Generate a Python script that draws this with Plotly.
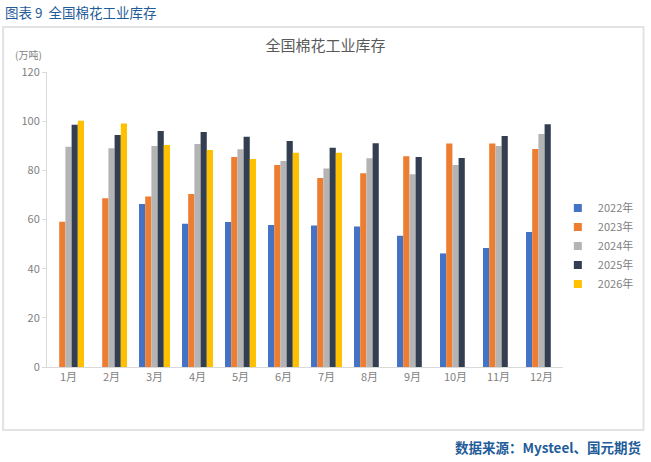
import plotly.graph_objects as go

months = ["1月", "2月", "3月", "4月", "5月", "6月", "7月", "8月", "9月", "10月", "11月", "12月"]
years = ["2022年", "2023年", "2024年", "2025年", "2026年"]

# 万吨 (None = no data)
y2022 = [None, None, 66.3, 58.3, 59.0, 57.8, 57.6, 57.2, 53.4, 46.2, 48.4, 54.9]
y2023 = [59.1, 68.6, 69.4, 70.4, 85.4, 82.2, 76.9, 78.8, 85.7, 90.9, 90.9, 88.7]
y2024 = [89.6, 89.0, 89.9, 90.7, 88.6, 83.8, 80.7, 84.9, 78.4, 82.2, 89.9, 94.8]
y2025 = [98.5, 94.4, 96.0, 95.6, 93.7, 91.9, 89.2, 91.0, 85.4, 85.0, 94.0, 98.7]
y2026 = [100.2, 99.1, 90.3, 88.3, 84.6, 87.2, 87.2, None, None, None, None, None]

colors = ["#4472C4", "#ED7D31", "#B4B4B4", "#333F50", "#FFC000"]
font = "Noto Sans CJK SC"

fig = go.Figure()
for name, vals, c in zip(years, [y2022, y2023, y2024, y2025, y2026], colors):
    fig.add_trace(go.Bar(x=months, y=vals, name=name, marker_color=c,
                         marker_line_width=0, showlegend=False))
# small square legend keys
for name, c in zip(years, colors):
    fig.add_trace(go.Scatter(x=[None], y=[None], mode="markers", name=name,
                             marker=dict(symbol="square", size=8, color=c)))

fig.update_layout(
    width=651, height=462,
    margin=dict(l=47, r=86, t=72, b=95),
    paper_bgcolor="white", plot_bgcolor="white",
    font=dict(family=font, size=11, color="#7F7F7F"),
    barmode="group", bargap=0.28, bargroupgap=0,
    title=dict(text="全国棉花工业库存", x=0.5, xanchor="center", y=0.9, yanchor="middle",
               font=dict(size=15, color="#595959")),
    legend=dict(x=0.99, y=0.41, xanchor="left", yanchor="middle",
                font=dict(size=11, color="#7F7F7F"), itemwidth=30,
                tracegroupgap=0),
    showlegend=True,
)
fig.update_xaxes(showline=True, linecolor="#D9D9D9", linewidth=1, ticks="",
                 tickfont=dict(size=11, color="#7F7F7F"))
fig.update_yaxes(range=[0, 120], dtick=20, showgrid=False, showline=True,
                 linecolor="#D9D9D9", ticks="outside", ticklen=4,
                 tickcolor="#D9D9D9", zeroline=False,
                 tickfont=dict(size=11, color="#7F7F7F"))

# outer frame
fig.add_shape(type="rect", xref="paper", yref="paper",
              x0=-0.085, x1=1.156, y0=-0.2136, y1=1.1525,
              line=dict(color="#E3E3E3", width=2))

fig.add_annotation(text="(万吨)", xref="paper", yref="paper", x=-0.035, y=1.06,
                   showarrow=False, xanchor="center", yanchor="middle",
                   font=dict(size=10, color="#7F7F7F"))
fig.add_annotation(text="图表 9  全国棉花工业库存", xref="paper", yref="paper",
                   x=-0.086, y=1.203, showarrow=False, xanchor="left", yanchor="middle",
                   font=dict(size=13.5, color="#1F5C99"))
fig.add_annotation(text="<b>数据来源：Mysteel、国元期货</b>", xref="paper", yref="paper",
                   x=1.156, y=-0.271, showarrow=False, xanchor="right", yanchor="middle",
                   font=dict(size=13.5, color="#1F5C99"))

fig.write_html("out.html", config={"displayModeBar": False},
               post_script="document.body.style.margin='0';")
